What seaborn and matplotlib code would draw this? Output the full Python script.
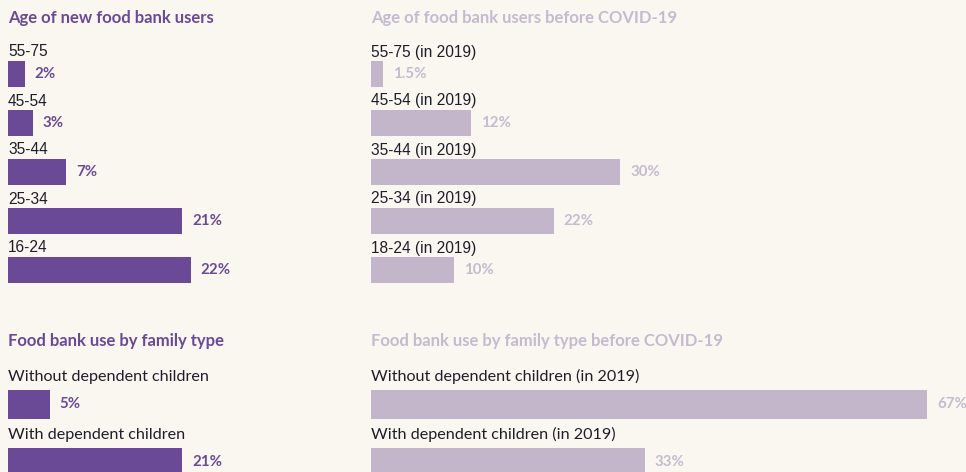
import matplotlib
matplotlib.use("Agg")
import matplotlib.pyplot as plt
import seaborn as sns
import pandas as pd

# ---------------- data ----------------
age_new_labels = ["55-75", "45-54", "35-44", "25-34", "16-24"]
age_new_values = [2, 3, 7, 21, 22]
age_new_text = ["2%", "3%", "7%", "21%", "22%"]

age_2019_labels = ["55-75 (in 2019)", "45-54 (in 2019)", "35-44 (in 2019)",
                   "25-34 (in 2019)", "18-24 (in 2019)"]
age_2019_values = [1.5, 12, 30, 22, 10]
age_2019_text = ["1.5%", "12%", "30%", "22%", "10%"]

fam_new_labels = ["Without dependent children", "With dependent children"]
fam_new_values = [5, 21]
fam_new_text = ["5%", "21%"]

fam_2019_labels = ["Without dependent children (in 2019)", "With dependent children (in 2019)"]
fam_2019_values = [67, 33]
fam_2019_text = ["67%", "33%"]

titles = ["Age of new food bank users", "Age of food bank users before COVID-19",
          "Food bank use by family type", "Food bank use by family type before COVID-19"]

# ---------------- style ----------------
BG = "#FAF7F1"
PURPLE = "#6A4A96"
LILAC = "#C3B6CB"
LILAC_TXT = "#C6BAD0"
INK = "#1E1E2A"

sns.set_theme(style="white")
plt.rcParams["font.family"] = ["Lato", "DejaVu Sans"]

W, H = 966, 472
fig = plt.figure(figsize=(W / 100, H / 100), dpi=100, facecolor=BG)
PX_PER_UNIT = 8.3


def make_axes(x0, x1, y_top, y_bot):
    return fig.add_axes([x0 / W, 1 - y_bot / H, (x1 - x0) / W, (y_bot - y_top) / H])


def panel(x0, x1, first_center, step, barh, labels, values, texts, color, txtcolor,
          label_font, label_size, label_offset):
    n = len(labels)
    top = first_center - step
    bot = first_center + (n - 1) * step + step * 0.5
    ax = make_axes(x0, x1, top, bot)
    df = pd.DataFrame({"cat": labels, "val": values})
    sns.barplot(data=df, x="val", y="cat", orient="h", color=color, saturation=1,
                width=barh / step, ax=ax, order=labels, linewidth=0, edgecolor=color)
    ax.set_xlim(0, (x1 - x0) / PX_PER_UNIT)
    ax.set_ylim(n - 0.5, -1)
    ax.set_facecolor("none")
    ax.axis("off")
    for i, (lab, v, t) in enumerate(zip(labels, values, texts)):
        ax.text(0, i - label_offset / step, lab, ha="left", va="center",
                fontsize=label_size, color=INK, family=label_font)
        ax.text(v + 10 / PX_PER_UNIT, i, t, ha="left", va="center", fontsize=10.8,
                fontweight="bold", color=txtcolor, family=["Lato", "DejaVu Sans"])
    return ax


panel(8, 360, 74, 49, 26, age_new_labels, age_new_values, age_new_text,
      PURPLE, PURPLE, ["Liberation Sans", "DejaVu Sans"], 11.2, 22)
panel(371, 966, 74, 49, 26, age_2019_labels, age_2019_values, age_2019_text,
      LILAC, LILAC_TXT, ["Liberation Sans", "DejaVu Sans"], 11.2, 22)
panel(8, 360, 404, 58, 29, fam_new_labels, fam_new_values, fam_new_text,
      PURPLE, PURPLE, ["Lato", "DejaVu Sans"], 11.6, 27.5)
panel(371, 966, 404, 58, 29, fam_2019_labels, fam_2019_values, fam_2019_text,
      LILAC, LILAC_TXT, ["Lato", "DejaVu Sans"], 11.6, 27.5)

title_pos = [(8, 18.5, PURPLE), (371, 18.5, LILAC_TXT), (8, 341, PURPLE), (371, 341, LILAC_TXT)]
for t, (x, y, c) in zip(titles, title_pos):
    fig.text(x / W, 1 - y / H, t, ha="left", va="center", fontsize=12,
             fontweight="bold", color=c)

fig.savefig("out.png", dpi=100, facecolor=BG)
